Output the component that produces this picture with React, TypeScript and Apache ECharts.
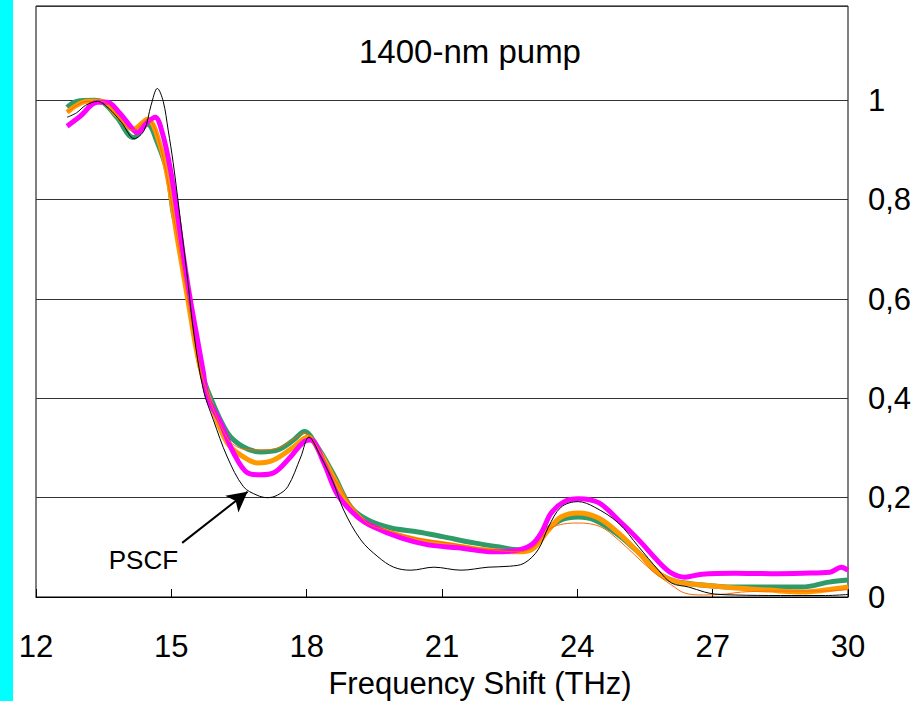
import React, { useEffect, useRef } from "react";
import * as echarts from "echarts";

const xTicks = [12, 15, 18, 21, 24, 27, 30];

const pscfX = [12.69, 12.9, 13.1, 13.36, 13.6, 13.9, 14.18, 14.4, 14.55, 14.69, 14.82, 14.93, 15.04, 15.2, 15.36, 15.5, 15.71, 15.93, 16.24, 16.6, 16.9, 17.13, 17.35, 17.58, 17.87, 18.05, 18.3, 18.6, 18.82, 19.2, 19.58, 19.93, 20.31, 20.82, 21.42, 22.02, 22.5, 22.82, 23.13, 23.36, 23.64, 24.02, 24.38, 24.91, 25.36, 25.8, 26.09, 26.47, 26.82, 27.04, 27.5, 28.5, 29.5, 30];
const pscfY = [0.966, 0.975, 0.99, 0.998, 0.985, 0.955, 0.923, 0.94, 0.99, 1.024, 0.998, 0.94, 0.875, 0.76, 0.64, 0.53, 0.417, 0.357, 0.282, 0.222, 0.205, 0.2, 0.205, 0.222, 0.282, 0.322, 0.285, 0.228, 0.175, 0.115, 0.081, 0.06, 0.054, 0.06, 0.054, 0.06, 0.062, 0.068, 0.095, 0.141, 0.181, 0.192, 0.181, 0.149, 0.101, 0.054, 0.028, 0.02, 0.01, 0.006, 0.004, 0.003, 0.003, 0.005];

const greenX = [12.69, 12.9, 13.3, 13.5, 13.8, 14.16, 14.47, 14.69, 14.91, 15.04, 15.2, 15.36, 15.5, 15.64, 15.8, 16.24, 16.6, 16.98, 17.36, 17.71, 17.95, 18.24, 18.6, 18.98, 19.36, 19.87, 20.47, 21.04, 21.71, 22.24, 22.69, 22.98, 23.27, 23.64, 24.02, 24.38, 24.91, 25.36, 25.8, 26.09, 26.38, 27.49, 28.98, 29.58, 30];
const greenY = [0.986, 0.998, 1.0, 0.995, 0.965, 0.925, 0.952, 0.915, 0.855, 0.774, 0.706, 0.613, 0.538, 0.464, 0.417, 0.331, 0.302, 0.292, 0.296, 0.316, 0.333, 0.302, 0.246, 0.181, 0.155, 0.139, 0.131, 0.121, 0.109, 0.101, 0.095, 0.101, 0.131, 0.155, 0.161, 0.155, 0.125, 0.089, 0.048, 0.034, 0.028, 0.02, 0.02, 0.03, 0.034];

const orangeX = [12.69, 12.9, 13.13, 13.45, 13.8, 14.16, 14.47, 14.76, 14.95, 15.1, 15.25, 15.4, 15.55, 15.7, 15.85, 16.24, 16.6, 16.91, 17.27, 17.71, 18.02, 18.3, 18.6, 18.9, 19.3, 19.87, 20.47, 21.2, 21.93, 22.69, 22.98, 23.36, 23.64, 24.02, 24.47, 24.91, 25.36, 25.8, 26.24, 26.76, 27.5, 28.24, 28.98, 29.5, 30];
const orangeY = [0.976, 0.99, 0.998, 0.998, 0.97, 0.942, 0.962, 0.907, 0.83, 0.74, 0.66, 0.58, 0.5, 0.44, 0.395, 0.31, 0.282, 0.27, 0.276, 0.302, 0.322, 0.29, 0.24, 0.19, 0.15, 0.129, 0.115, 0.105, 0.095, 0.091, 0.095, 0.135, 0.161, 0.169, 0.159, 0.129, 0.089, 0.048, 0.03, 0.024, 0.018, 0.014, 0.01, 0.014, 0.02];

const redX = [12.69, 13.13, 13.45, 14.16, 14.47, 14.76, 15.1, 15.4, 15.7, 16.24, 16.6, 16.98, 17.36, 17.71, 17.95, 18.3, 18.6, 19.3, 19.87, 20.47, 21.2, 21.93, 22.69, 23.04, 23.42, 24.02, 24.5, 24.91, 25.64, 26.09, 26.38, 26.8, 27.3, 27.64, 28.5, 29.5, 30];
const redY = [0.976, 0.998, 0.998, 0.94, 0.962, 0.905, 0.74, 0.58, 0.44, 0.32, 0.298, 0.296, 0.3, 0.318, 0.33, 0.292, 0.24, 0.152, 0.132, 0.118, 0.108, 0.097, 0.091, 0.101, 0.139, 0.149, 0.142, 0.115, 0.054, 0.024, 0.008, 0.004, 0.006, 0.01, 0.012, 0.012, 0.015];

const magentaX = [12.69, 12.98, 13.36, 13.58, 13.85, 14.09, 14.24, 14.47, 14.64, 14.8, 14.98, 15.13, 15.27, 15.42, 15.58, 15.71, 15.8, 16.09, 16.38, 16.69, 16.98, 17.27, 17.64, 17.93, 18.09, 18.38, 18.69, 19.13, 19.49, 20.09, 20.69, 21.36, 22.16, 22.6, 22.98, 23.2, 23.42, 23.71, 24.02, 24.47, 24.91, 25.36, 25.8, 26.09, 26.38, 26.76, 27.5, 28.3, 29.0, 29.6, 29.85, 30];
const magentaY = [0.948, 0.968, 0.996, 0.996, 0.975, 0.948, 0.935, 0.956, 0.966, 0.935, 0.861, 0.774, 0.685, 0.599, 0.518, 0.452, 0.403, 0.351, 0.29, 0.25, 0.246, 0.25, 0.282, 0.312, 0.316, 0.27, 0.205, 0.161, 0.141, 0.119, 0.105, 0.099, 0.091, 0.093, 0.105, 0.129, 0.169, 0.192, 0.198, 0.19, 0.155, 0.115, 0.071, 0.048, 0.04, 0.046, 0.048, 0.047, 0.048, 0.05, 0.06, 0.054];

const title = "1400-nm pump";
const xName = "Frequency Shift (THz)";
const annotationText = "PSCF";
const arrowFrom = [15.24, 0.109];
const arrowTo = [16.69, 0.212];
const labelAt = [14.38, 0.075];

const FONT = "Liberation Sans, Arial, sans-serif";

const zip = (xs: number[], ys: number[]) => xs.map((x, i) => [x, ys[i]]);

export default function App() {
  const ref = useRef<HTMLDivElement>(null);
  useEffect(() => {
    if (!ref.current) return;
    const chart = echarts.init(ref.current, undefined, { renderer: "svg" });
    const line = (name: string, xs: number[], ys: number[], color: string, width: number, extra: any = {}) => ({
      name,
      type: "line",
      data: zip(xs, ys),
      showSymbol: false,
      smooth: 0.35,
      lineStyle: { color, width },
      itemStyle: { color },
      z: 3,
      ...extra,
    });
    chart.setOption({
      animation: false,
      backgroundColor: "#ffffff",
      grid: { left: 36, right: 76, top: 6, bottom: 104, show: true, borderColor: "#000", borderWidth: 1, backgroundColor: "transparent" },
      graphic: [
        { type: "rect", shape: { x: 0, y: 0, width: 13, height: 701 }, style: { fill: "#00FFFF" }, z: 100 },
        { type: "text", x: 470, y: 51, style: { text: title, font: `33px ${FONT}`, fill: "#000", align: "center", verticalAlign: "middle" } },
        { type: "text", x: 480, y: 683, style: { text: xName, font: `31px ${FONT}`, fill: "#000", align: "center", verticalAlign: "middle" } },
      ],
      xAxis: {
        type: "value",
        min: xTicks[0],
        max: xTicks[xTicks.length - 1],
        interval: 3,
        axisLine: { show: true, lineStyle: { color: "#000", width: 1 } },
        axisTick: { show: true, inside: true, length: 8, lineStyle: { color: "#000" } },
        axisLabel: { margin: 34, fontSize: 31, fontFamily: FONT, color: "#000" },
        splitLine: { show: false },
      },
      yAxis: {
        type: "value",
        position: "right",
        min: 0,
        max: 1.19,
        interval: 0.2,
        axisLine: { show: false },
        axisTick: { show: false },
        axisLabel: {
          margin: 20,
          fontSize: 31,
          fontFamily: FONT,
          color: "#000",
          showMaxLabel: false,
          formatter: (v: number) => (Math.abs(v - 1.19) < 1e-6 ? "" : String(Math.round(v * 10) / 10).replace(".", ",")),
        },
        splitLine: { show: true, lineStyle: { color: "#333", width: 1 } },
      },
      series: [
        line("green", greenX, greenY, "#2E9B68", 5),
        line("orange", orangeX, orangeY, "#FF9900", 5),
        line("magenta", magentaX, magentaY, "#FF00FF", 5),
        line("orangered", redX, redY, "#FF6600", 1),
        line("PSCF", pscfX, pscfY, "#000000", 1, {
          markLine: {
            silent: true,
            symbol: ["none", "arrow"],
            symbolSize: [16, 20],
            label: { show: false },
            lineStyle: { color: "#000", width: 2, type: "solid" },
            data: [[{ coord: arrowFrom }, { coord: arrowTo }]],
          },
          markPoint: {
            symbol: "rect",
            symbolSize: 1,
            itemStyle: { color: "transparent" },
            label: { show: true, formatter: annotationText, fontSize: 26, fontFamily: FONT, color: "#000", position: "inside" },
            data: [{ coord: labelAt }],
          },
        }),
      ],
    });
    return () => chart.dispose();
  }, []);
  return <div ref={ref} style={{ position: "absolute", left: 0, top: 0, width: 924, height: 701 }} />;
}
